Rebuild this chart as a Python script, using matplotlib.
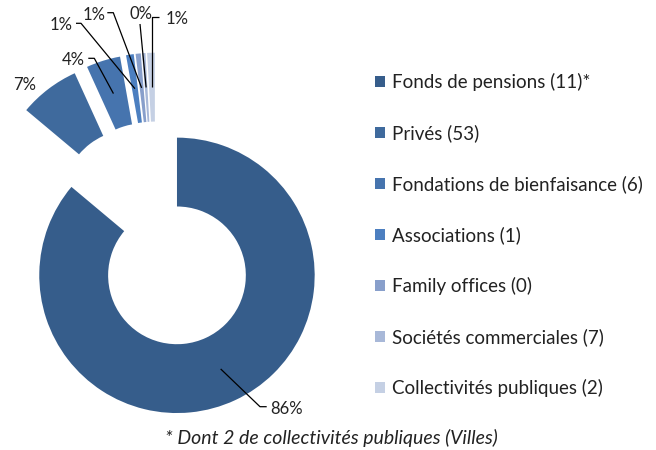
import matplotlib
matplotlib.use('Agg')
import matplotlib.pyplot as plt
import numpy as np

# ---- data ----
categories = ['Fonds de pensions (11)*', 'Privés (53)', 'Fondations de bienfaisance (6)',
              'Associations (1)', 'Family offices (0)', 'Sociétés commerciales (7)',
              'Collectivités publiques (2)']
shares = [86.1, 7.1, 4.0, 0.9, 0.6, 0.4, 0.9]
colors = ['#365D8B', '#3F6A9D', '#4674AE', '#4C7FC0', '#889FCB', '#A8B8D8', '#C5D0E4']
footnote = '* Dont 2 de collectivités publiques (Villes)'

plt.rcParams['font.family'] = ['Lato', 'DejaVu Sans']

W, H = 656, 450
fig = plt.figure(figsize=(W / 100, H / 100), dpi=100)
ax = fig.add_axes([0, 0, 1, 1])


def py(y):
    return H - y


R = 137.7
center = (156.0, py(230.4))
explode = [49.6] + [40.0] * 6
wedges, _ = ax.pie(shares, colors=colors, startangle=90, counterclock=False,
                   radius=R, center=center, explode=explode,
                   wedgeprops=dict(width=R * 0.5, linewidth=0))
ax.set_xlim(0, W)
ax.set_ylim(0, H)
ax.set_aspect('equal')
ax.axis('off')

# anchors at the middle of each wedge
anchors = []
for w in wedges:
    tm = np.deg2rad((w.theta1 + w.theta2) / 2)
    rm = w.r - w.width / 2
    anchors.append((w.center[0] + rm * np.cos(tm), w.center[1] + rm * np.sin(tm)))

# label placement (text x, baseline y, leader elbow points) in pixel coords
label_specs = [
    ((270, 413.5), [(260, 406.7), (266.7, 406.7)]),
    ((12.7, 90), None),
    ((61.7, 65), [(94.3, 58.3), (88.3, 58.3)]),
    ((50, 30.5), [(81, 23.3), (76, 23.3)]),
    ((82.7, 19.5), [(113.3, 12.7), (107.3, 12.7)]),
    ((129, 19), [(140, 24)]),
    ((165.7, 24), 'vert'),
]
lab_fs = 12
for i, (s, (tpos, path)) in enumerate(zip(shares, label_specs)):
    ax.text(tpos[0], py(tpos[1]), f'{round(s):d}%', fontsize=lab_fs, color='#222222',
            ha='left', va='baseline')
    if path is None:
        continue
    ax_, ay_ = anchors[i]
    if path == 'vert':
        pts = [(ax_, ay_), (ax_, py(17.3)), (159.3, py(17.3))]
    else:
        pts = [(ax_, ay_)] + [(x, py(y)) for x, y in path]
    xs, ys = zip(*pts)
    ax.plot(xs, ys, color='black', lw=0.9, solid_capstyle='butt')

leg_fs = 13.5
leg = ax.legend(wedges, categories, loc='upper left',
                bbox_to_anchor=(375 / W, 1 - 73 / H), frameon=False,
                fontsize=leg_fs, handlelength=0.54, handleheight=0.54,
                handletextpad=0.37, labelspacing=1.76, borderpad=0, borderaxespad=0)
for t in leg.get_texts():
    t.set_color('#222222')

ax.text(331, py(438), footnote, fontsize=14, style='italic', color='#222222',
        ha='center', va='center')

fig.savefig('out.png', dpi=100)
